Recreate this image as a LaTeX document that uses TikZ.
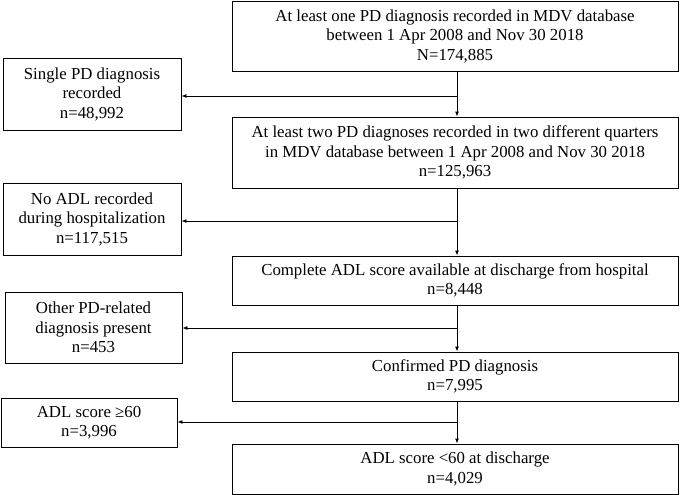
\documentclass[tikz,border=0pt]{standalone}
\usepackage{fontspec}
\setmainfont{Liberation Serif}
\usetikzlibrary{arrows.meta}
\begin{document}
\begin{tikzpicture}[x=1pt,y=-1pt,
  box/.style={draw, line width=0.9pt, align=center, inner sep=0pt, font=\fontsize{16.8}{19.5}\selectfont},
  arr/.style={line width=0.9pt, -{Latex[length=5pt,width=4pt]}},
  ln/.style={line width=0.9pt}]
\useasboundingbox (0,0) rectangle (680,495);
% main column
\node[box, minimum width=446pt, minimum height=70pt] (b1) at (455,36) {At least one PD diagnosis recorded in MDV database\\between 1 Apr 2008 and Nov 30 2018\\N=174,885};
\node[box, minimum width=446pt, minimum height=71pt] (b2) at (455,152.5) {At least two PD diagnoses recorded in two different quarters\\in MDV database between 1 Apr 2008 and Nov 30 2018\\n=125,963};
\node[box, minimum width=446pt, minimum height=49pt] (b3) at (455,280.5) {Complete ADL score available at discharge from hospital\\n=8,448};
\node[box, minimum width=446pt, minimum height=49pt] (b4) at (455,376.5) {Confirmed PD diagnosis\\n=7,995};
\node[box, minimum width=446pt, minimum height=50pt] (b5) at (455,469) {ADL score <60 at discharge\\n=4,029};
% exclusion boxes
\node[box, minimum width=178pt, minimum height=72pt] (l1) at (92,94) {Single PD diagnosis\\recorded\\n=48,992};
\node[box, minimum width=178pt, minimum height=72pt] (l2) at (92,219) {No ADL recorded\\during hospitalization\\n=117,515};
\node[box, minimum width=177pt, minimum height=71pt] (l3) at (93.5,327.5) {Other PD-related\\diagnosis present\\n=453};
\node[box, minimum width=176pt, minimum height=49pt] (l4) at (89,422.5) {ADL score \symbol{"2265}60\\n=3,996};
% junctions
\coordinate (j1) at (457,96);
\coordinate (j2) at (457,221);
\coordinate (j3) at (457,328);
\coordinate (j4) at (457,422);
% trunk arrows
\draw[arr] (b1.south -| j1) -- (b2.north -| j1);
\draw[arr] (b2.south -| j2) -- (b3.north -| j2);
\draw[arr] (b3.south -| j3) -- (b4.north -| j3);
\draw[arr] (b4.south -| j4) -- (b5.north -| j4);
% branches
\draw[arr] (j1) -- (j1 -| l1.east);
\draw[arr] (j2) -- (j2 -| l2.east);
\draw[arr] (j3) -- (j3 -| l3.east);
\draw[arr] (j4) -- (j4 -| l4.east);
\end{tikzpicture}
\end{document}
